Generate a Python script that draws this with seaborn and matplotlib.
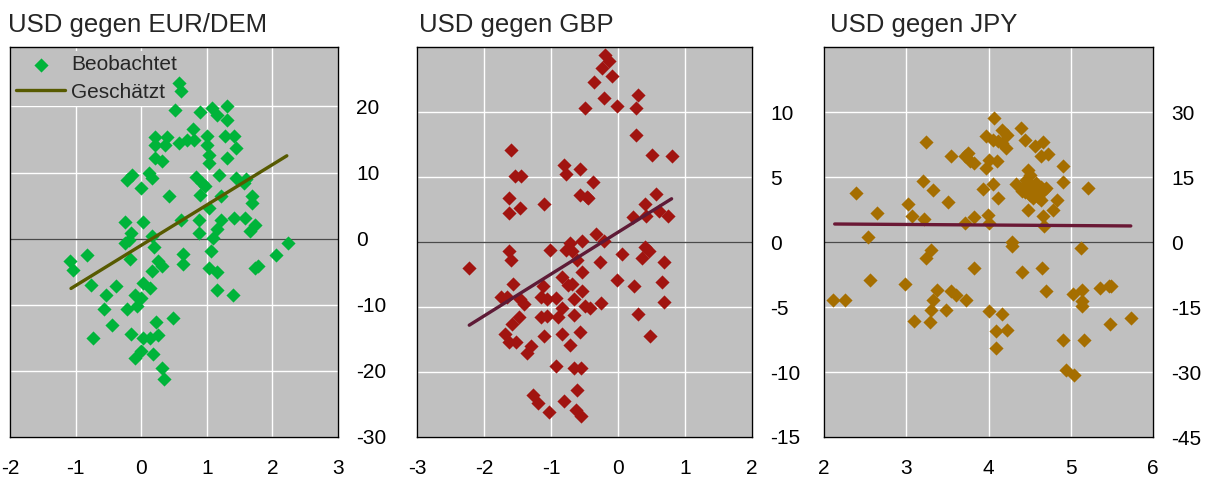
import numpy as np
import pandas as pd
import matplotlib
matplotlib.use("Agg")
import matplotlib.pyplot as plt
import seaborn as sns

# ---- Data: EUR/DEM panel ----
eur_x = [0.57, 0.60, 0.52, 0.90, 1.08, 1.16, 1.31, 1.31, 0.79, 0.21, 0.40, 0.21, 0.37, 0.57,
         0.70, 0.80, 1.01, 1.01, 1.28, 1.41, 1.44, 1.03, 1.03, 1.31, 0.21, 0.32, -0.21, -0.14,
         0.12, 0.17, 0.00, 0.42, 0.83, 0.93, 0.98, 0.90, 1.18, 1.44, 1.59, 1.56, 1.21, 1.69,
         1.69, 1.03, 0.61, 0.88, 1.21, 1.41, 1.58, 1.74, 1.66, 0.88, 1.16, 1.10, -0.24, 0.03,
         -0.16, -0.24, 0.17, 0.19, -0.19, 1.07, 2.24, 2.05, -1.08, -0.82, -1.04, -0.17, 0.64,
         0.64, 0.26, 0.31, 0.17, 1.03, 1.16, 1.74, 1.78, -0.76, -0.39, -0.54, 0.02, 0.14,
         -0.09, -0.01, 1.16, 1.40, -0.57, -0.21, -0.06, -0.45, -0.73, -0.15, 0.22, 0.49,
         0.02, 0.14, 0.26, -0.01, -0.09, 0.18, 0.31, 0.34]
eur_y = [23.6, 22.3, 19.4, 19.2, 19.7, 18.7, 20.0, 17.9, 16.6, 15.4, 15.4, 14.2, 14.2, 14.5,
         15.0, 15.0, 15.5, 14.2, 15.5, 15.5, 13.7, 12.7, 11.4, 12.2, 12.2, 11.8, 8.9, 9.7,
         9.9, 9.2, 7.6, 6.4, 9.4, 8.5, 7.9, 6.6, 9.7, 9.2, 9.0, 8.4, 6.4, 6.5,
         5.4, 4.6, 2.8, 2.9, 2.9, 3.1, 3.1, 2.1, 1.1, 0.9, 1.4, 0.1, 2.5, 2.5,
         0.9, -0.6, 0.4, -1.2, -0.2, -1.8, -0.6, -2.4, -3.3, -2.4, -4.8, -3.0, -2.3,
         -3.9, -3.4, -4.1, -4.9, -4.4, -5.0, -4.4, -4.2, -7.0, -7.2, -8.5, -6.7, -7.5,
         -8.5, -9.0, -7.8, -8.5, -10.7, -10.7, -10.2, -13.0, -15.0, -14.4, -12.6, -12.0,
         -15.0, -15.0, -14.5, -17.0, -18.0, -17.4, -19.5, -21.2]

# ---- Data: GBP panel ----
gbp_x = [-0.20, -0.13, -0.24, -0.09, -0.36, -0.21, -0.02, -0.50, 0.30, 0.27, 0.27, 0.51, 0.81,
         -1.60, -1.53, -1.45, -0.80, -0.78, -0.56, -0.38, -0.56, -0.46, -0.45, -1.63, -1.46,
         -1.63, -1.10, 0.57, 0.41, 0.42, 0.61, 0.75, 0.22, -0.33, -0.21, -0.53, -0.71, -1.01,
         -0.78, -0.68, -1.63, -1.60, -0.61, -0.27, 0.06, 0.41, 0.47, 0.36, 0.68, -2.23, -0.53,
         -0.83, -0.75, -0.68, -1.57, -1.12, -0.02, 0.24, 0.66, -1.75, -1.65, -1.47, -1.40,
         -1.15, -1.06, -0.93, -0.53, -0.65, -0.49, -0.42, -0.26, 0.68, -0.83, -1.15, -1.06,
         -0.90, -0.66, -1.48, -1.58, 0.30, -1.68, -1.62, -1.52, -1.11, -0.83, -0.71, -0.56,
         0.48, -1.36, -1.30, -0.93, -0.66, -0.55, -0.61, -1.27, -1.19, -1.03, -0.80, -0.63, -0.55]
gbp_y = [14.4, 13.9, 13.4, 12.8, 12.3, 11.1, 10.5, 10.3, 11.3, 10.3, 8.2, 6.7, 6.6,
         7.1, 5.1, 5.1, 5.9, 5.2, 5.6, 4.6, 3.6, 3.5, 3.4, 3.4, 2.6,
         2.2, 2.9, 3.7, 2.9, 2.0, 2.4, 2.0, 1.9, 0.6, 0.1, 0.1, -0.1, -0.6,
         -0.6, -0.7, -0.7, -1.4, -1.4, -1.5, -0.9, -0.4, -0.7, -1.2, -1.5, -2.0, -2.3,
         -2.7, -3.3, -3.2, -3.2, -3.4, -2.9, -3.4, -3.1, -4.2, -4.2, -4.4, -4.8,
         -4.2, -4.4, -4.3, -3.8, -4.4, -4.9, -5.1, -4.7, -4.6, -5.1, -5.8, -5.7,
         -5.8, -5.6, -5.8, -6.3, -5.5, -7.1, -7.7, -7.7, -7.2, -7.1, -7.9, -6.9,
         -7.2, -8.5, -8.0, -9.5, -9.7, -9.7, -11.4, -11.8, -12.4, -13.1, -12.2, -12.9, -13.4]

# ---- Data: JPY panel ----
jpy_x = [4.07, 3.97, 4.05, 4.16, 4.22, 4.16, 4.21, 4.12, 4.40, 4.44, 4.57, 4.66, 4.64, 4.72,
         3.24, 3.55, 3.71, 3.75, 3.77, 3.82, 4.01, 4.10, 3.97, 4.90, 3.20, 3.33, 2.39, 3.51,
         3.93, 4.05, 4.12, 4.33, 4.41, 4.48, 4.50, 4.46, 4.52, 4.58, 4.64, 4.68, 4.50, 4.60,
         4.64, 4.83, 4.90, 5.21, 2.64, 3.02, 3.07, 3.22, 3.71, 3.82, 3.99, 4.01, 4.48, 4.66,
         4.78, 4.68, 2.54, 4.29, 4.29, 5.12, 3.30, 3.24, 3.82, 4.41, 4.65, 2.56, 2.99, 2.11,
         2.26, 3.37, 3.33, 3.55, 3.61, 3.73, 3.30, 3.48, 3.09, 3.29, 4.70, 5.03, 5.14, 5.14,
         5.14, 5.35, 5.47, 5.49, 4.01, 4.17, 4.09, 4.22, 4.09, 5.48, 5.73, 4.91, 5.16, 4.94,
         5.04, 4.42, 4.55, 4.62, 4.44, 4.54, 4.70]
jpy_y = [28.6, 24.5, 23.6, 25.9, 24.8, 22.8, 21.7, 23.2, 26.3, 23.6, 22.2, 23.0, 19.8, 20.4,
         23.0, 19.8, 19.9, 20.5, 18.6, 18.2, 19.0, 18.8, 17.1, 17.5, 14.0, 12.1, 11.2, 9.2,
         12.2, 13.5, 10.2, 13.5, 11.7, 16.7, 15.5, 14.4, 12.8, 13.6, 12.8, 12.1, 10.9, 10.5,
         9.6, 9.8, 13.8, 12.5, 6.8, 8.8, 6.1, 5.3, 4.4, 5.8, 6.2, 4.4, 7.5, 6.1,
         7.5, 3.6, 1.1, -0.1, -1.0, -1.4, -1.8, -3.7, -6.0, -7.0, -6.0, -8.7, -9.6, -13.3,
         -13.3, -11.0, -13.3, -11.4, -12.2, -13.3, -15.6, -15.6, -18.3, -18.5, -11.4, -11.9, -11.0, -13.7,
         -14.8, -10.6, -10.2, -10.1, -16.0, -16.5, -20.6, -20.2, -24.5, -18.9, -17.5, -22.5, -22.5, -29.5,
         -30.8, 12.8, 12.1, 11.5, 11.5, 10.2, 12.5]

# ---- Estimated lines: intercept, slope, x-range ----
fit_intercept = [-1.0, 0.75, 4.42]
fit_slope = [6.1, 3.22, -0.125]
fit_xrange = [(-1.07, 2.22), (-2.22, 0.80), (2.13, 5.73)]

titles = ["USD gegen EUR/DEM", "USD gegen GBP", "USD gegen JPY"]
x_ticks = [[-2, -1, 0, 1, 2, 3], [-3, -2, -1, 0, 1, 2], [2, 3, 4, 5, 6]]
y_ticks = [[-30, -20, -10, 0, 10, 20], [-15, -10, -5, 0, 5, 10], [-45, -30, -15, 0, 15, 30]]
y_limits = [(-30, 29), (-15, 15), (-45, 45)]
legend_labels = ["Beobachtet", "Geschätzt"]

point_colors = ["#00B43A", "#A11410", "#A56E00"]
line_colors = ["#575A00", "#5E1A36", "#6A1835"]

sns.set_style("white")
plt.rcParams["font.family"] = ["Liberation Sans", "DejaVu Sans"]

fig = plt.figure(figsize=(12.07, 4.78), dpi=100)
W, H = 1207, 478
boxes = [(10, 338), (417, 752), (824, 1153)]
top_px, bot_px = 47, 437
title_x = [8, 419, 830]

series = [(eur_x, eur_y), (gbp_x, gbp_y), (jpy_x, jpy_y)]

for i in range(3):
    l, r = boxes[i]
    ax = fig.add_axes([l / W, 1 - bot_px / H, (r - l) / W, (bot_px - top_px) / H])
    ax.set_facecolor("#C0C0C0")
    xs, ys = series[i]
    df = pd.DataFrame({"x": xs, "y": ys})
    x0, x1 = fit_xrange[i]
    fx = np.array([x0, x1])
    line_df = pd.DataFrame({"x": fx, "y": fit_intercept[i] + fit_slope[i] * fx})

    ax.axhline(0, color="#4A4A4A", lw=1.0, zorder=1.5)
    sns.scatterplot(data=df, x="x", y="y", ax=ax, marker="D", s=52,
                    color=point_colors[i], linewidth=0, zorder=3,
                    label=legend_labels[0] if i == 0 else None, legend=False)
    sns.lineplot(data=line_df, x="x", y="y", ax=ax, color=line_colors[i],
                 lw=2.4, zorder=4, label=legend_labels[1] if i == 0 else None,
                 legend=False)

    ax.set_xlim(x_ticks[i][0], x_ticks[i][-1])
    ax.set_ylim(*y_limits[i])
    ax.set_xticks(x_ticks[i])
    ax.set_yticks(y_ticks[i])
    ax.set_xticklabels([str(v) for v in x_ticks[i]])
    ax.set_yticklabels([str(v) for v in y_ticks[i]])
    ax.yaxis.tick_right()
    ax.tick_params(axis="both", length=0, labelsize=15, colors="black")
    ax.tick_params(axis="y", pad=13)
    ax.tick_params(axis="x", pad=16)
    ax.grid(True, color="white", lw=1.0, zorder=0)
    ax.set_axisbelow(True)
    ax.set_xlabel("")
    ax.set_ylabel("")
    for sp in ax.spines.values():
        sp.set_visible(True)
        sp.set_color("black")
        sp.set_linewidth(1.0)

    fig.text(title_x[i] / W, 1 - 32 / H, titles[i], fontsize=18.5,
             ha="left", va="baseline")

    if i == 0:
        leg = ax.legend(loc="upper left", bbox_to_anchor=(0.0, 0.995), fontsize=15,
                        frameon=True, facecolor="#C0C0C0", edgecolor="none", framealpha=1,
                        handlelength=2.35, handletextpad=0.3, borderpad=0.2,
                        borderaxespad=0.1, labelspacing=0.4, fancybox=False)
        leg.set_zorder(2.5)

fig.savefig("out.png", dpi=100)
